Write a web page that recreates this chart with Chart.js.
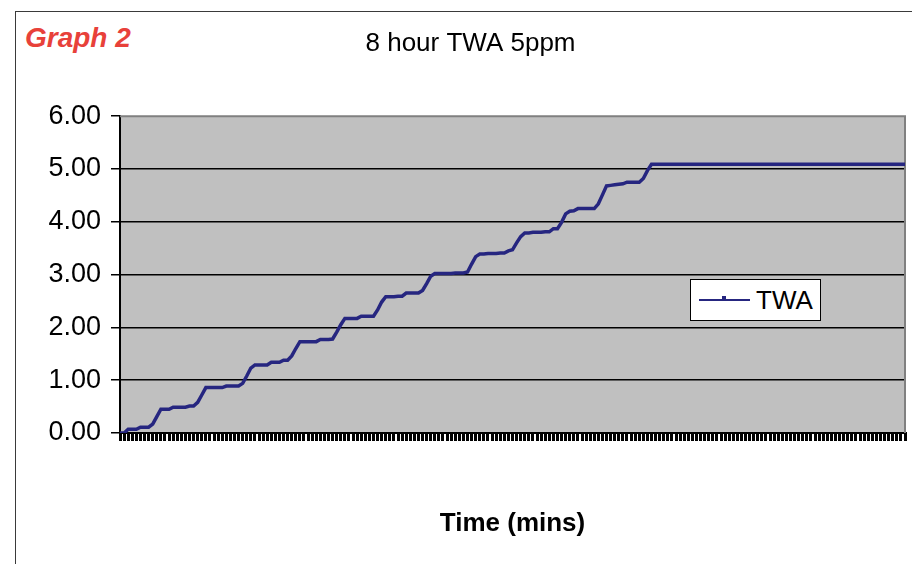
<!DOCTYPE html>
<html>
<head>
<meta charset="utf-8">
<script src="https://cdn.jsdelivr.net/npm/chart.js@4.4.1/dist/chart.umd.min.js"></script>
<style>
  html, body { margin: 0; padding: 0; background: #fff; width: 912px; height: 564px; overflow: hidden; }
  #frame { position: absolute; left: 15px; top: 11px; width: 940px; height: 600px; border: 1.5px solid #3a3a3a; }
  #tag { position: absolute; left: 25px; top: 24px; font: italic bold 28px/28px "Liberation Sans", Arial, sans-serif; color: #e8413a; }
  #wrap { position: absolute; left: 16px; top: 12px; width: 896px; height: 552px; }
  #legend { position: absolute; left: 690px; top: 279px; width: 131px; height: 42px; box-sizing: border-box;
            background: #fff; border: 1.5px solid #000; font: 26px/26px "Liberation Sans", Arial, sans-serif; color: #000; }
  #legend .swatch { position: absolute; left: 8px; top: 19px; width: 51px; height: 2px; }
  #legend .mark { position: absolute; left: 31px; top: 16px; width: 4px; height: 5px; }
  #legend .txt { position: absolute; left: 65px; top: 7px; }
</style>
</head>
<body>
<div id="frame"></div>
<div id="tag">Graph 2</div>
<div id="wrap"><canvas id="c"></canvas></div>
<div id="legend"></div>
<script>
// Data
const chartTitle = '8 hour TWA 5ppm';
const xTitle = 'Time (mins)';
const seriesName = 'TWA';
const yTickLabels = ['0.00', '1.00', '2.00', '3.00', '4.00', '5.00', '6.00'];

const timeMins = [
  0, 2.5, 5, 7.5, 10, 12.5, 15, 17.5, 20, 22.5,
  25, 27.5, 30, 32.5, 35, 37.5, 40, 42.5, 45, 47.5,
  50, 52.5, 55, 57.5, 60, 62.5, 65, 67.5, 70, 72.5,
  75, 77.5, 80, 82.5, 85, 87.5, 90, 92.5, 95, 97.5,
  100, 102.5, 105, 107.5, 110, 112.5, 115, 117.5, 120, 122.5,
  125, 127.5, 130, 132.5, 135, 137.5, 140, 142.5, 145, 147.5,
  150, 152.5, 155, 157.5, 160, 162.5, 165, 167.5, 170, 172.5,
  175, 177.5, 180, 182.5, 185, 187.5, 190, 192.5, 195, 197.5,
  200, 202.5, 205, 207.5, 210, 212.5, 215, 217.5, 220, 222.5,
  225, 227.5, 230, 232.5, 235, 237.5, 240, 242.5, 245, 247.5,
  250, 252.5, 255, 257.5, 260, 262.5, 265, 267.5, 270, 272.5,
  275, 277.5, 280, 282.5, 285, 287.5, 290, 292.5, 295, 297.5,
  300, 302.5, 305, 307.5, 310, 312.5, 315, 317.5, 320, 322.5,
  325, 327.5, 330, 332.5, 335, 337.5, 340, 342.5, 345, 347.5,
  350, 352.5, 355, 357.5, 360, 362.5, 365, 367.5, 370, 372.5,
  375, 377.5, 380, 382.5, 385, 387.5, 390, 392.5, 395, 397.5,
  400, 402.5, 405, 407.5, 410, 412.5, 415, 417.5, 420, 422.5,
  425, 427.5, 430, 432.5, 435, 437.5, 440, 442.5, 445, 447.5,
  450, 452.5, 455, 457.5, 460, 462.5, 465, 467.5, 470, 472.5,
  475, 477.5, 480
];

const twaValues = [
  0.00, 0.00, 0.07, 0.07, 0.07, 0.11, 0.11, 0.11, 0.17, 0.31,
  0.45, 0.45, 0.45, 0.49, 0.49, 0.49, 0.49, 0.51, 0.51, 0.58,
  0.72, 0.86, 0.86, 0.86, 0.86, 0.86, 0.89, 0.89, 0.89, 0.89,
  0.94, 1.08, 1.23, 1.29, 1.29, 1.29, 1.29, 1.34, 1.34, 1.34,
  1.38, 1.38, 1.46, 1.60, 1.73, 1.73, 1.73, 1.73, 1.73, 1.77,
  1.77, 1.77, 1.78, 1.91, 2.05, 2.17, 2.17, 2.17, 2.17, 2.21,
  2.21, 2.21, 2.21, 2.33, 2.48, 2.58, 2.58, 2.58, 2.59, 2.59,
  2.65, 2.65, 2.65, 2.65, 2.70, 2.83, 2.97, 3.02, 3.02, 3.02,
  3.02, 3.02, 3.03, 3.03, 3.03, 3.05, 3.20, 3.34, 3.39, 3.39,
  3.40, 3.40, 3.40, 3.41, 3.41, 3.45, 3.47, 3.60, 3.72, 3.79,
  3.79, 3.80, 3.80, 3.80, 3.81, 3.81, 3.87, 3.87, 3.99, 4.15,
  4.20, 4.21, 4.25, 4.25, 4.25, 4.25, 4.25, 4.34, 4.51, 4.68,
  4.69, 4.70, 4.71, 4.72, 4.75, 4.75, 4.75, 4.75, 4.82, 4.97,
  5.09, 5.09, 5.09, 5.09, 5.09, 5.09, 5.09, 5.09, 5.09, 5.09,
  5.09, 5.09, 5.09, 5.09, 5.09, 5.09, 5.09, 5.09, 5.09, 5.09,
  5.09, 5.09, 5.09, 5.09, 5.09, 5.09, 5.09, 5.09, 5.09, 5.09,
  5.09, 5.09, 5.09, 5.09, 5.09, 5.09, 5.09, 5.09, 5.09, 5.09,
  5.09, 5.09, 5.09, 5.09, 5.09, 5.09, 5.09, 5.09, 5.09, 5.09,
  5.09, 5.09, 5.09, 5.09, 5.09, 5.09, 5.09, 5.09, 5.09, 5.09,
  5.09, 5.09, 5.09
];

const FONT = '"Liberation Sans", Arial, sans-serif';
const lineColor = '#262680';

Chart.defaults.color = '#000';
Chart.defaults.font.family = FONT;

// grey plot area with a darker edge, like the old Excel look
const plotBg = {
  id: 'plotBg',
  beforeDraw(chart) {
    const { ctx, chartArea: a } = chart;
    ctx.save();
    ctx.fillStyle = '#c0c0c0';
    ctx.fillRect(a.left, a.top, a.right - a.left, a.bottom - a.top);
    ctx.restore();
  },
  beforeDatasetsDraw(chart) {
    const { ctx, chartArea: a } = chart;
    ctx.save();
    ctx.strokeStyle = '#808080';
    ctx.lineWidth = 2;
    ctx.beginPath();
    ctx.moveTo(a.left, a.top);
    ctx.lineTo(a.right, a.top);
    ctx.lineTo(a.right, a.bottom);
    ctx.stroke();
    ctx.restore();
  }
};

const chart = new Chart(document.getElementById('c'), {
  type: 'line',
  data: {
    labels: timeMins,
    datasets: [{
      label: seriesName,
      data: twaValues,
      borderColor: lineColor,
      backgroundColor: lineColor,
      borderWidth: 3.5,
      pointRadius: 0,
      tension: 0,
      fill: false
    }]
  },
  options: {
    responsive: true,
    maintainAspectRatio: false,
    animation: false,
    layout: { padding: { left: 20, right: 7, top: 0, bottom: 0 } },
    plugins: {
      legend: { display: false },
      tooltip: { enabled: false },
      title: {
        display: true,
        text: chartTitle,
        color: '#000',
        font: { size: 26, weight: 'normal', family: FONT, lineHeight: 1.2 },
        padding: { top: 16, bottom: 57 }
      }
    },
    scales: {
      x: {
        ticks: { display: false },
        grid: { display: true, drawOnChartArea: false, drawTicks: true, tickLength: 8, color: '#000', lineWidth: 3 },
        border: { display: true, color: '#000', width: 2 },
        title: {
          display: true,
          text: xTitle,
          color: '#000',
          font: { size: 26, weight: 'bold', family: FONT, lineHeight: 1.2 },
          padding: { top: 0, bottom: 25 }
        },
        afterFit: (s) => { s.height = 131; }
      },
      y: {
        min: 0,
        max: 6,
        ticks: {
          stepSize: 1,
          color: '#000',
          padding: 10,
          font: { size: 27, family: FONT },
          callback: (v) => yTickLabels[v]
        },
        grid: {
          color: (ctx) => (ctx.tick && ctx.tick.value === 6 ? 'rgba(0,0,0,0)' : '#000'),
          tickColor: '#000',
          lineWidth: 1.5,
          tickLength: 9,
          drawTicks: true
        },
        border: { display: true, color: '#000', width: 2 },
        afterFit: (s) => { s.width = 84; }
      }
    }
  },
  plugins: [plotBg]
});

// legend box sits inside the plot, built from the dataset
const legend = document.getElementById('legend');
chart.data.datasets.forEach((ds) => {
  legend.innerHTML =
    '<span class="swatch" style="background:' + ds.borderColor + '"></span>' +
    '<span class="mark" style="background:' + ds.borderColor + '"></span>' +
    '<span class="txt">' + ds.label + '</span>';
});
</script>
</body>
</html>
